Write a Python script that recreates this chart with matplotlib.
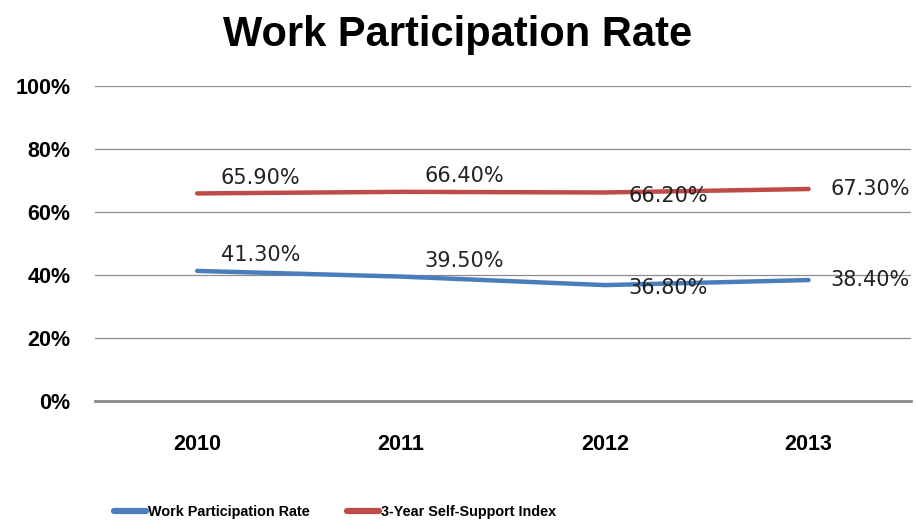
import matplotlib.pyplot as plt
from matplotlib.ticker import PercentFormatter

# Data
years = ['2010', '2011', '2012', '2013']
work_rate = [41.3, 39.5, 36.8, 38.4]
self_support = [65.9, 66.4, 66.2, 67.3]
y_ticks = [0, 20, 40, 60, 80, 100]

BLUE = '#4A7EBB'
RED = '#BE4B48'
GRID = '#8C8C8C'
BOLD_FONT = 'Liberation Sans'

fig = plt.figure(figsize=(9.16, 5.28), dpi=100)
ax = fig.add_axes([0.104, 0.2405, 0.89, 0.5966])

x = list(range(len(years)))
ax.plot(x, work_rate, color=BLUE, lw=3.2, solid_capstyle='round',
        label='Work Participation Rate', zorder=3)
ax.plot(x, self_support, color=RED, lw=3.2, solid_capstyle='round',
        label='3-Year Self-Support Index', zorder=3)

# Data labels sit to the right of each point (Excel style)
lab_font = dict(fontsize=15, color='#222222', family='DejaVu Sans', zorder=4)
for series in (work_rate, self_support):
    for i, v in enumerate(series):
        txt = f'{v:.2f}%'
        if i < 2:
            ax.annotate(txt, (i, v), xytext=(17, 4), textcoords='offset points',
                        ha='left', va='bottom', **lab_font)
        elif i == 2:
            ax.annotate(txt, (i, v), xytext=(17, 5), textcoords='offset points',
                        ha='left', va='top', **lab_font)
        else:
            ax.annotate(txt, (i, v), xytext=(16, 0), textcoords='offset points',
                        ha='left', va='center', **lab_font)

ax.set_xlim(-0.5, 3.5)
ax.set_ylim(0, 100)
ax.set_yticks(y_ticks)
ax.yaxis.set_major_formatter(PercentFormatter(decimals=0))
ax.set_xticks(x)
ax.set_xticklabels(years)

ax.grid(axis='y', color=GRID, lw=0.9)
ax.set_axisbelow(True)
for side in ('top', 'right', 'left'):
    ax.spines[side].set_visible(False)
ax.spines['bottom'].set_color('#8A8A8A')
ax.spines['bottom'].set_linewidth(2)
ax.tick_params(axis='y', length=0, pad=18)
ax.tick_params(axis='x', length=0, pad=24)
for t in ax.get_yticklabels() + ax.get_xticklabels():
    t.set_fontweight('bold')
    t.set_fontsize(15.5)
    t.set_family(BOLD_FONT)

fig.suptitle('Work Participation Rate', x=0.5, y=0.972, fontsize=30,
             fontweight='bold', family=BOLD_FONT)

fig.legend(loc='center', bbox_to_anchor=(0.366, 0.030), ncol=2, frameon=False,
           handlelength=2.2, handletextpad=0.15, columnspacing=2.6,
           prop={'family': BOLD_FONT, 'weight': 'bold', 'size': 10.4})
for h in fig.legends[0].get_lines():
    h.set_linewidth(4.5)

fig.savefig('out.png', dpi=100)
